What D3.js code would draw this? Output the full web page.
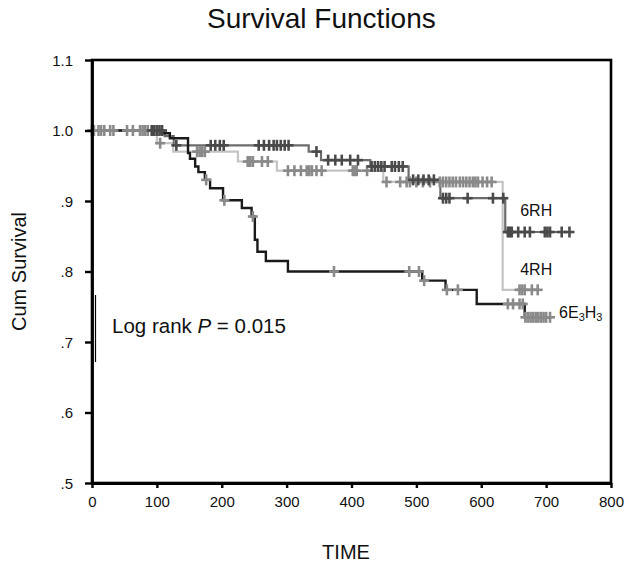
<!DOCTYPE html>
<html>
<head>
<meta charset="utf-8">
<script src="https://cdn.jsdelivr.net/npm/d3@7"></script>
<style>
  html, body { margin: 0; padding: 0; background: #fff; }
  svg { display: block; font-family: "Liberation Sans", Arial, sans-serif; }
  .tick text { font-size: 15px; font-family: "Liberation Sans", Arial, sans-serif; fill: #111; }
</style>
</head>
<body>
<svg id="chart" width="629" height="568"></svg>
<script>
// ---- data ----
const xTicks = [0, 100, 200, 300, 400, 500, 600, 700, 800];
const yTicks = [1.1, 1.0, 0.9, 0.8, 0.7, 0.6, 0.5];
const yTickLabels = ["1.1", "1.0", ".9", ".8", ".7", ".6", ".5"];

// 6RH
const rh6Times = [0, 112, 126, 334, 353, 429, 488, 537, 637, 736];
const rh6Surv  = [1.0, 0.992, 0.979, 0.970, 0.958, 0.949, 0.930, 0.904, 0.856, 0.856];
const rh6Censor = [92, 96, 100, 104, 108, 130, 183, 190, 197, 203, 257, 265, 273, 280, 285, 291, 297, 303,
  346, 364, 375, 385, 398, 410, 431, 436, 441, 446, 451, 462, 467, 473, 479,
  495, 503, 511, 519, 527, 541, 546, 551, 579, 618, 634, 641, 644, 647, 657, 667, 675, 698, 702, 706, 724, 736];

// 4RH
const rh4Times = [0, 100, 125, 225, 285, 449, 633, 690];
const rh4Surv  = [1.0, 0.982, 0.970, 0.956, 0.943, 0.927, 0.774, 0.774];
const rh4Censor = [0, 3, 10, 14, 19, 28, 33, 54, 63, 74, 78, 82, 86, 105, 162, 166, 170, 174,
  240, 244, 248, 262, 271, 302, 312, 322, 331, 335, 339, 346, 354, 402, 405, 408, 424,
  454, 475, 485, 490, 500, 510, 521, 536, 541, 546, 551, 556, 561, 567, 572, 577, 582, 587, 591, 595,
  602, 609, 616, 659, 663, 667, 678, 687];

// 6E3H3
const e3Times = [0, 107, 120, 148, 151, 159, 164, 174, 182, 202, 231, 246, 251, 255, 268, 302, 509, 545, 593, 667, 708];
const e3Surv  = [1.0, 0.996, 0.989, 0.968, 0.960, 0.949, 0.941, 0.930, 0.918, 0.901, 0.890, 0.878, 0.845, 0.828, 0.815, 0.800, 0.787, 0.774, 0.754, 0.735, 0.735];
const e3Censor = [176, 204, 248, 373, 489, 504, 512, 547, 564, 641, 649, 659, 664, 668, 672, 676, 680, 684, 688, 692, 696, 700, 706];

// ---- layout ----
const svg = d3.select("#chart");
const L = 92, R = 611, T = 60, B = 483;
const x = d3.scaleLinear().domain([0, 800]).range([L, R]);
const y = d3.scaleLinear().domain([0.5, 1.1]).range([B, T]);

function survAt(times, surv, t) {
  let v = surv[0];
  for (let i = 0; i < times.length; i++) { if (times[i] <= t) v = surv[i]; }
  return v;
}

const groups = [
  { times: rh4Times, surv: rh4Surv, censor: rh4Censor, line: "#c4c4c4", mark: "#8a8a8a", w: 2.2 },
  { times: rh6Times, surv: rh6Surv, censor: rh6Censor, line: "#6c6c6c", mark: "#4a4a4a", w: 2.2 },
  { times: e3Times, surv: e3Surv, censor: e3Censor, line: "#1a1a1a", mark: "#8a8a8a", w: 2.4 }
];

const line = d3.line().x(d => x(d[0])).y(d => y(d[1])).curve(d3.curveStepAfter);

groups.forEach(g => {
  const pts = g.times.map((t, i) => [t, g.surv[i]]);
  svg.append("path").attr("d", line(pts)).attr("fill", "none")
    .attr("stroke", g.line).attr("stroke-width", g.w);
});
groups.forEach(g => {
  const mg = svg.append("g").attr("stroke", g.mark).attr("stroke-width", 2.6);
  g.censor.forEach(t => {
    const cx = x(t), cy = y(survAt(g.times, g.surv, t));
    mg.append("line").attr("x1", cx - 5).attr("x2", cx + 5).attr("y1", cy).attr("y2", cy);
    mg.append("line").attr("x1", cx).attr("x2", cx).attr("y1", cy - 5.5).attr("y2", cy + 5.5);
  });
});

// frame
svg.append("rect").attr("x", L).attr("y", T).attr("width", R - L).attr("height", B - T)
  .attr("fill", "none").attr("stroke", "#000").attr("stroke-width", 2.6);

// axes
const xAxis = d3.axisBottom(x).tickValues(xTicks).tickSize(5).tickSizeOuter(0).tickFormat(d3.format("d"));
const gx = svg.append("g").attr("transform", `translate(0,${B})`).call(xAxis);
gx.attr("font-size", null).attr("font-family", null);
gx.select(".domain").attr("stroke-width", 2.8);
gx.selectAll(".tick line").attr("stroke-width", 2.4);
gx.selectAll("text").attr("dy", 0).attr("y", 24);

const yAxis = d3.axisLeft(y).tickValues(yTicks).tickSize(7).tickSizeOuter(0)
  .tickFormat((d, i) => yTickLabels[i]);
const gy = svg.append("g").attr("transform", `translate(${L},0)`).call(yAxis);
gy.attr("font-size", null).attr("font-family", null);
gy.select(".domain").attr("stroke-width", 2.8);
gy.selectAll(".tick line").attr("stroke-width", 2.4);
gy.selectAll("text").attr("x", -19).attr("dy", "0.36em");
svg.selectAll(".domain, .tick line").attr("stroke", "#000");

// title & axis labels
svg.append("text").attr("x", 207).attr("y", 28).attr("font-size", 28).attr("fill", "#111")
  .text("Survival Functions");
svg.append("text").attr("x", 346).attr("y", 559).attr("font-size", 20).attr("text-anchor", "middle")
  .attr("fill", "#111").text("TIME");
svg.append("text").attr("transform", `translate(26,${(T + B) / 2}) rotate(-90)`)
  .attr("font-size", 20).attr("text-anchor", "middle").attr("fill", "#111").text("Cum Survival");

// group labels
svg.append("text").attr("x", x(660)).attr("y", 216).attr("font-size", 16).attr("fill", "#111").text("6RH");
svg.append("text").attr("x", x(660)).attr("y", 275).attr("font-size", 16).attr("fill", "#111").text("4RH");
const lab = svg.append("text").attr("x", x(720)).attr("y", 318).attr("font-size", 16).attr("fill", "#111");
lab.append("tspan").text("6E");
lab.append("tspan").attr("font-size", 11).attr("dy", 3).text("3");
lab.append("tspan").attr("dy", -3).text("H");
lab.append("tspan").attr("font-size", 11).attr("dy", 3).text("3");

// log rank annotation
svg.append("line").attr("x1", 95.5).attr("x2", 95.5).attr("y1", 295).attr("y2", 362)
  .attr("stroke", "#000").attr("stroke-width", 1.2);
const lr = svg.append("text").attr("x", 112).attr("y", 333).attr("font-size", 20.5).attr("fill", "#111");
lr.append("tspan").text("Log rank ");
lr.append("tspan").attr("font-style", "italic").text("P");
lr.append("tspan").text(" = 0.015");
</script>
</body>
</html>
